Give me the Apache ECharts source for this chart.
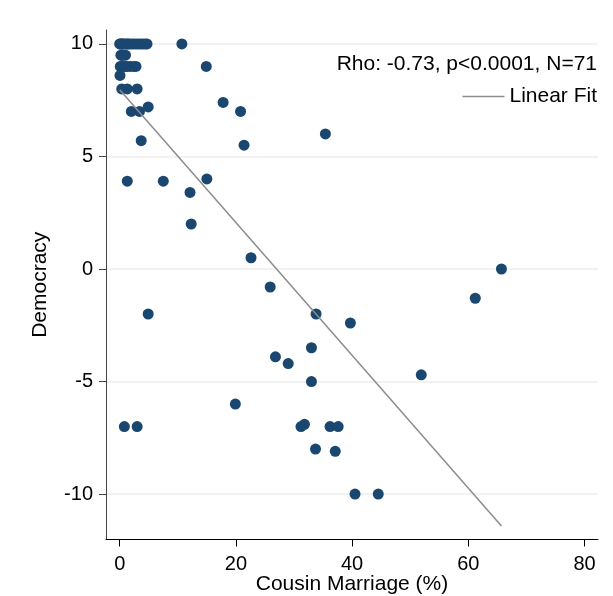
<!DOCTYPE html>
<html>
<head>
<meta charset="utf-8">
<script src="https://cdn.jsdelivr.net/npm/echarts@6/dist/echarts.min.js"></script>
<style>
  html, body { margin: 0; padding: 0; background: #fff; }
  #chart { width: 613px; height: 596px; }
</style>
</head>
<body>
<div id="chart"></div>
<script>
// cousin marriage (%) and democracy score, one entry per country (N=71)
const cousinX = [
  0, 0.3, 0.6, 0.9, 1.2, 1.6, 2.0, 2.4, 2.8, 3.2, 3.6, 4.0, 4.4, 4.7, 0.1, 0.5, 1.4, 10.7,
  0.2, 0.6, 1.0, 0.4,
  0.1, 0.6, 1.2, 1.8, 2.4, 2.8, 0.3, 1.0, 14.9,
  0.05,
  0.35, 1.3, 3.0,
  17.8, 4.9, 2.0, 3.4, 20.8,
  35.4, 3.7, 21.4,
  1.3, 7.5, 15.0, 12.1, 12.3,
  22.6, 65.7, 25.9, 61.2,
  4.9, 33.8, 39.7, 33.0, 26.8, 29.0, 51.9, 33.0, 19.9,
  0.8, 3.0, 31.2, 31.8, 36.2, 37.6,
  33.7, 37.1, 40.5, 44.5
];
const democracyY = [
  10, 10, 10, 10, 10, 10, 10, 10, 10, 10, 10, 10, 10, 10, 10, 10, 10, 10,
  9.5, 9.5, 9.5, 9.5,
  9, 9, 9, 9, 9, 9, 9, 9, 9,
  8.6,
  8, 8, 8,
  7.4, 7.2, 7, 7, 7,
  6, 5.7, 5.5,
  3.9, 3.9, 4, 3.4, 2,
  0.5, 0, -0.8, -1.3,
  -2, -2, -2.4, -3.5, -3.9, -4.2, -4.7, -5, -6,
  -7, -7, -7, -6.9, -7, -7,
  -8, -8.1, -10, -10
];
// linear fit end points
const fitX = [0, 65.7];
const fitY = [7.96, -11.42];

const xTicks = [0, 20, 40, 60, 80];
const yTicks = [-10, -5, 0, 5, 10];
const statsText = 'Rho: -0.73, p<0.0001, N=71';

const FONT = 'Liberation Sans, Arial, sans-serif';

const points = cousinX.map((x, i) => [x, democracyY[i]]);
const fitLine = fitX.map((x, i) => [x, fitY[i]]);

const chart = echarts.init(document.getElementById('chart'));
chart.setOption({
  animation: false,
  backgroundColor: '#fff',
  textStyle: { fontFamily: FONT },
  grid: { left: 106, right: 15, top: 30, bottom: 56.5, containLabel: false, outerBoundsMode: 'none' },
  title: {
    text: statsText,
    right: 16,
    top: 54,
    padding: 0,
    textStyle: { fontFamily: FONT, fontSize: 21, fontWeight: 'normal', color: '#000' }
  },
  legend: {
    data: [{ name: 'Linear Fit', icon: 'rect' }],
    right: 16,
    top: 86,
    padding: 0,
    itemWidth: 42,
    itemHeight: 1.5,
    textStyle: { fontFamily: FONT, fontSize: 21, color: '#000' }
  },
  xAxis: {
    type: 'value',
    min: -2.36,
    max: 82.32,
    name: 'Cousin Marriage (%)',
    nameLocation: 'middle',
    nameGap: 34,
    nameMoveOverlap: false,
    nameTextStyle: { fontFamily: FONT, fontSize: 21, color: '#000' },
    axisLine: { show: true, onZero: false, lineStyle: { color: '#000', width: 1 } },
    axisTick: { show: true, customValues: xTicks, length: 7, lineStyle: { color: '#000' } },
    axisLabel: { customValues: xTicks, fontSize: 20, color: '#000', margin: 15, fontFamily: FONT },
    splitLine: { show: false }
  },
  yAxis: {
    type: 'value',
    min: -12.02,
    max: 10.62,
    name: 'Democracy',
    nameLocation: 'middle',
    nameGap: 55,
    nameTextStyle: { fontFamily: FONT, fontSize: 21, color: '#000' },
    axisLine: { show: true, onZero: false, lineStyle: { color: '#444', width: 1 } },
    axisTick: { show: true, customValues: yTicks, length: 7, lineStyle: { color: '#444' } },
    axisLabel: { customValues: yTicks, fontSize: 20, color: '#000', margin: 13, fontFamily: FONT },
    splitLine: { show: true, lineStyle: { color: '#eeeeee', width: 1.5 } }
  },
  series: [
    {
      name: 'Countries',
      type: 'scatter',
      data: points,
      symbolSize: 11,
      itemStyle: { color: '#1a476f', opacity: 1 },
      z: 3
    },
    {
      name: 'Linear Fit',
      type: 'line',
      data: fitLine,
      showSymbol: false,
      symbol: 'none',
      lineStyle: { color: '#8c8c8c', width: 1.5 },
      itemStyle: { color: '#8c8c8c' },
      z: 4
    }
  ]
});
</script>
</body>
</html>
